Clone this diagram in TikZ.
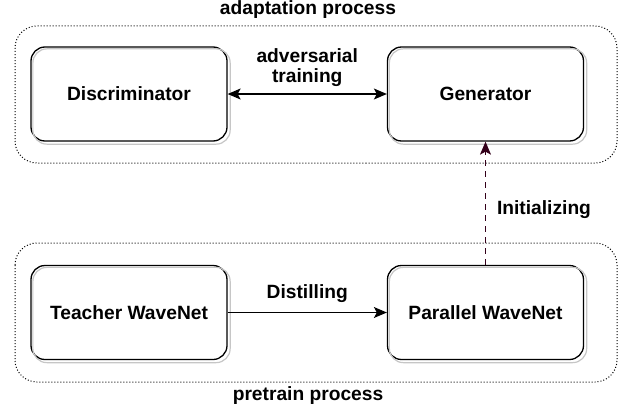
\documentclass[tikz,border=0pt]{standalone}
\usepackage{fontspec}
\setmainfont{Liberation Sans}
\usetikzlibrary{arrows.meta}
\definecolor{initcolor}{HTML}{33001A}
\tikzset{
	block/.style={draw, line width=1.3pt, rounded corners=14pt, fill=white, minimum width=196pt, minimum height=94pt, inner sep=0pt},
	blockshadow/.style={draw=gray!45, line width=1.2pt, rounded corners=14pt},
	process/.style={draw, dotted, line width=1pt, rounded corners=22pt},
	label/.style={font=\bfseries\fontsize{19.2}{23}\selectfont, align=center},
	conn/.style={line width=1.1pt, -{Stealth[length=13pt, width=11pt, inset=3pt]}},
	biconn/.style={line width=1.1pt, {Stealth[length=13pt, width=11pt, inset=3pt]}-{Stealth[length=13pt, width=11pt, inset=3pt]}}
}
\begin{document}
\begin{tikzpicture}[x=1pt, y=-1pt, every node/.style={font=\bfseries\fontsize{19.2}{23}\selectfont}]
					\useasboundingbox (0,0) rectangle (628,412);
					% Adaptation process
					\draw[process] (15,26) rectangle (617,163);
					\node[label] (adapt) at (308,10) {adaptation process};
					\node[block] (disc) at (129,94) {Discriminator};
					\node[block] (gen) at (485.5,94) {Generator};
					\draw[blockshadow] ([shift={(2.5,2.5)}]disc.south west) rectangle ([shift={(2.5,2.5)}]disc.north east);
					\draw[blockshadow] ([shift={(2.5,2.5)}]gen.south west) rectangle ([shift={(2.5,2.5)}]gen.north east);
					\draw[biconn] (disc) -- (gen)
						node[label, midway, above=4pt] (adv) {adversarial\\[-3pt]training};
					% Pretrain process
					\draw[process] (15,243) rectangle (617,382);
					\node[label] (pre) at (308,396) {pretrain process};
					\node[block] (teach) at (129,312.5) {Teacher WaveNet};
					\node[block] (para) at (485.5,312.5) {Parallel WaveNet};
					\draw[blockshadow] ([shift={(2.5,2.5)}]teach.south west) rectangle ([shift={(2.5,2.5)}]teach.north east);
					\draw[blockshadow] ([shift={(2.5,2.5)}]para.south west) rectangle ([shift={(2.5,2.5)}]para.north east);
					\draw[conn] (teach) -- (para) node[label, midway, above=6pt] (dist) {Distilling};
					% Initializing
					\draw[conn, dashed, dash pattern=on 6pt off 5pt, initcolor] (para) -- (gen);
					\node[label] (init) at (544,210) {Initializing};
				\end{tikzpicture}
\end{document}
